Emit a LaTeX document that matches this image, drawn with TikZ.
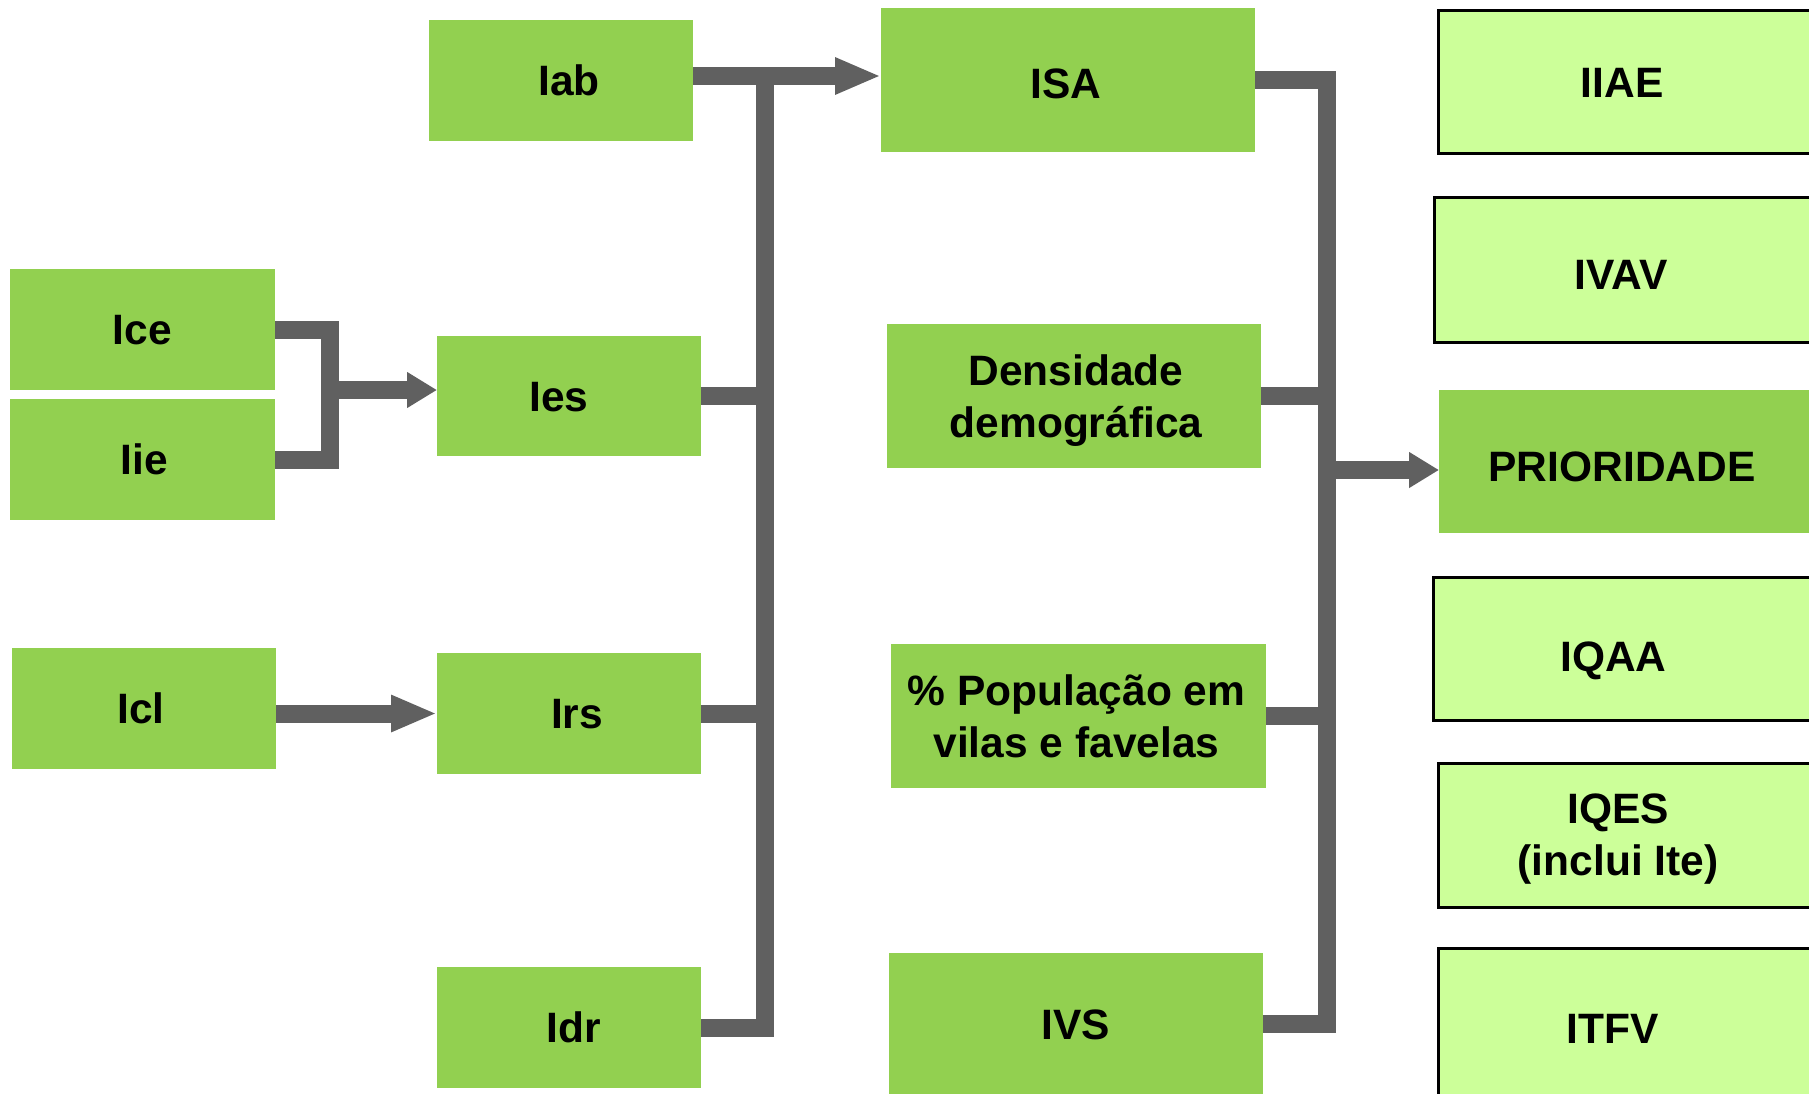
\documentclass[tikz,border=0pt]{standalone}
\usepackage{fontspec}
\setmainfont{Liberation Sans}
\usetikzlibrary{arrows.meta}
\definecolor{dg}{HTML}{92D050}
\definecolor{lg}{HTML}{CCFF99}
\definecolor{connc}{HTML}{606060}
\newcommand\sh[2]{\hspace*{#1}#2\hspace*{-#1}}
\begin{document}
\begin{tikzpicture}[x=1pt,y=-1pt,
  every node/.style={font=\fontsize{42.5}{52}\selectfont\bfseries, align=center, inner sep=0pt, outer sep=0pt, text depth=0pt},
  one/.style={text height=#1},
  one/.default=30pt,
  gbox/.style={fill=dg, anchor=north west},
  lbox/.style={fill=lg, draw=black, line width=3pt, anchor=north west},
  conn/.style={draw=connc, line width=18pt, line join=miter, line cap=butt},
  bigarrow/.style={-{Triangle[length=46pt,width=34pt]}},
  smallarrow/.style={-{Triangle[length=30pt,width=34pt]}}]
\useasboundingbox (0,0) rectangle (1809,1093);
\clip (0,0) rectangle (1809,1093);
% left column
\node[gbox, one, minimum width=265pt, minimum height=121pt] (ice) at (10,269) {Ice};
\node[gbox, one, minimum width=265pt, minimum height=121pt] (iie) at (10,399) {\sh{2pt}{Iie}};
\node[gbox, one, minimum width=264pt, minimum height=121pt] (icl) at (12,648) {\sh{-3pt}{Icl}};
% second column
\node[gbox, one, minimum width=264pt, minimum height=121pt] (iab) at (429,20) {\sh{8pt}{Iab}};
\node[gbox, one, minimum width=264pt, minimum height=120pt] (ies) at (437,336) {\sh{-10pt}{Ies}};
\node[gbox, one, minimum width=264pt, minimum height=121pt] (irs) at (437,653) {\sh{8pt}{Irs}};
\node[gbox, one, minimum width=264pt, minimum height=121pt] (idr) at (437,967) {\sh{5pt}{Idr}};
% third column
\node[gbox, one=36pt, minimum width=374pt, minimum height=144pt] (isa) at (881,8) {\sh{-2pt}{ISA}};
\node[gbox, minimum width=374pt, minimum height=144pt] (dens) at (887,324) {\sh{2pt}{Densidade}\\\sh{2pt}{demográfica}};
\node[gbox, minimum width=375pt, minimum height=144pt] (pop) at (891,644) {\sh{-2pt}{\% População em}\\\sh{-2pt}{vilas e favelas}};
\node[gbox, one, minimum width=374pt, minimum height=142pt] (ivs) at (889,953) {IVS};
% right column
\node[lbox, one=32pt, minimum width=380pt, minimum height=143pt] (iiae) at (1438,10) {\sh{-6pt}{IIAE}};
\node[lbox, one=40pt, minimum width=384pt, minimum height=145pt] (ivav) at (1434,197) {\sh{-5pt}{IVAV}};
\node[gbox, one=40pt, minimum width=380pt, minimum height=143pt] (prior) at (1439,390) {\sh{-7pt}{PRIORIDADE}};
\node[lbox, one=46pt, minimum width=385pt, minimum height=143pt] (iqaa) at (1433,577) {\sh{-12pt}{IQAA}};
\node[lbox, minimum width=380pt, minimum height=144pt] (iqes) at (1438,763) {\sh{-10pt}{IQES}\\\sh{-10pt}{(inclui Ite)}};
\node[lbox, one, minimum width=380pt, minimum height=160pt] (itfv) at (1438,948) {\sh{-15pt}{ITFV}};
% helper coordinates
\coordinate (bk) at (330,390);
\coordinate (bl) at (765,76);
\coordinate (br) at (1327,470);
% Ice / Iie bracket to Ies
\draw[conn] (ice.east) -- (ice.east -| bk) -- (iie.east -| bk) -- (iie.east);
\draw[conn,smallarrow] (bk) -- (bk -| ies.west);
% Icl to Irs
\draw[conn,bigarrow] (irs.west -| icl.east) -- (irs.west);
% left bar
\draw[conn,bigarrow] (bl -| iab.east) -- (bl -| isa.west);
\draw[conn] (idr.east) -- (idr.east -| bl) -- (bl);
\draw[conn] (ies.east) -- (ies.east -| bl);
\draw[conn] (irs.east) -- (irs.east -| bl);
% right bar
\draw[conn] (isa.east) -- (isa.east -| br) -- (br |- ivs.east) -- (ivs.east);
\draw[conn] (dens.east) -- (dens.east -| br);
\draw[conn] (pop.east) -- (pop.east -| br);
\draw[conn,smallarrow] (br) -- (br -| prior.west);
\end{tikzpicture}
\end{document}
